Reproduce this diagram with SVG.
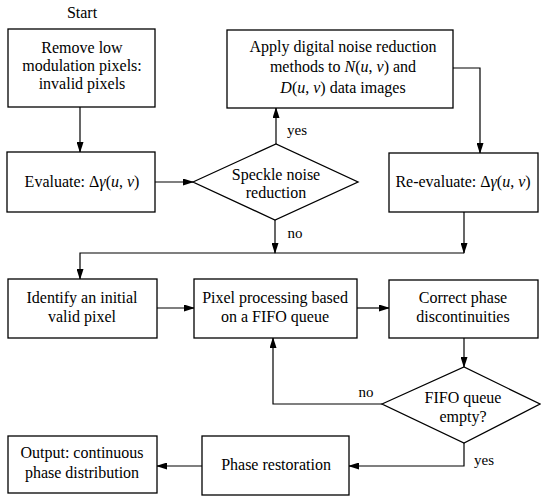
<svg xmlns="http://www.w3.org/2000/svg" width="541" height="496" viewBox="0 0 541 496">
<defs>
<marker id="ah" markerWidth="11" markerHeight="7" refX="10" refY="3.5" orient="auto" markerUnits="userSpaceOnUse">
<path d="M0,0 L11,3.5 L0,7 Z" fill="#000"/>
</marker>
<style>
.box{fill:#fff;stroke:#000;stroke-width:1.3}
text{font-family:'Liberation Serif','DejaVu Serif',serif;font-size:16px;fill:#000;text-anchor:middle}
.i{font-style:italic}
.c{fill:none;stroke:#000;stroke-width:1.2;marker-end:url(#ah)}
.s{font-size:15px}
</style>
</defs>
<rect width="541" height="496" fill="#fff"/>
<g font-family="Liberation Serif, DejaVu Serif, serif">
<text x="82" y="18">Start</text>
<g id="connectors">
<path class="c" d="M80,107 V152"/>
<path class="c" d="M155,182 H193"/>
<path class="c" d="M276,144 V108"/>
<path class="c" d="M453,68 H480 V153"/>
<path class="c" d="M464,212 V253"/>
<path class="c" d="M275,220 V253"/>
<path class="c" d="M464,253 H80 V279"/>
<path class="c" d="M157,308 H194"/>
<path class="c" d="M357,308 H389"/>
<path class="c" d="M464,338 V367"/>
<path class="c" d="M382,404 H273 V338"/>
<path class="c" d="M464,443 V466 H349"/>
<path class="c" d="M202,466 H157"/>
<text class="s" x="297" y="135">yes</text>
<text class="s" x="295" y="238">no</text>
<text class="s" x="366" y="397">no</text>
<text class="s" x="484" y="465">yes</text>
</g>
<g id="remove">
<rect class="box" x="8" y="29" width="147" height="78"/>
<text x="82" y="53">Remove low</text>
<text x="82" y="71">modulation pixels:</text>
<text x="82" y="89">invalid pixels</text>
</g>
<g id="evaluate">
<rect class="box" x="7" y="152" width="148" height="60"/>
<text x="82" y="187">Evaluate:  Δ<tspan class="i">γ</tspan>(<tspan class="i">u</tspan>, <tspan class="i">v</tspan>)</text>
</g>
<g id="speckle">
<polygon class="box" points="193,182 276,144 358,182 275,220"/>
<text x="276" y="180">Speckle noise</text>
<text x="276" y="198">reduction</text>
</g>
<g id="apply">
<rect class="box" x="227" y="30" width="226" height="78"/>
<text x="343" y="52">Apply digital noise reduction</text>
<text x="343" y="72">methods to  <tspan class="i">N</tspan>(<tspan class="i">u</tspan>, <tspan class="i">v</tspan>)  and</text>
<text x="343" y="93"><tspan class="i">D</tspan>(<tspan class="i">u</tspan>, <tspan class="i">v</tspan>)  data images</text>
</g>
<g id="reevaluate">
<rect class="box" x="389" y="153" width="149" height="59"/>
<text x="463" y="187">Re-evaluate:  Δ<tspan class="i">γ</tspan>(<tspan class="i">u</tspan>, <tspan class="i">v</tspan>)</text>
</g>
<g id="identify">
<rect class="box" x="8" y="279" width="149" height="59"/>
<text x="82" y="303">Identify an initial</text>
<text x="82" y="322">valid pixel</text>
</g>
<g id="pixel">
<rect class="box" x="194" y="279" width="163" height="59"/>
<text x="275" y="303">Pixel processing based</text>
<text x="275" y="322">on a FIFO queue</text>
</g>
<g id="correct">
<rect class="box" x="389" y="280" width="149" height="58"/>
<text x="463" y="303">Correct phase</text>
<text x="463" y="322">discontinuities</text>
</g>
<g id="fifo">
<polygon class="box" points="382,404 464,367 540,404 464,443"/>
<text x="463" y="403">FIFO queue</text>
<text x="463" y="422">empty?</text>
</g>
<g id="phase">
<rect class="box" x="202" y="436" width="147" height="59"/>
<text x="276" y="470">Phase restoration</text>
</g>
<g id="output">
<rect class="box" x="8" y="436" width="149" height="57"/>
<text x="82" y="458">Output: continuous</text>
<text x="82" y="478">phase distribution</text>
</g>
</g>
</svg>
